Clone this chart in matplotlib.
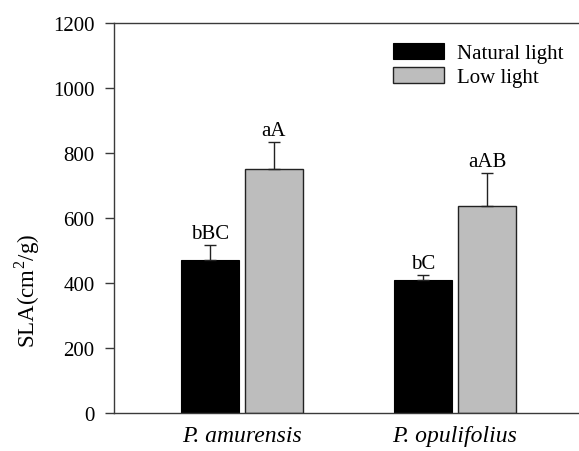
import matplotlib
matplotlib.use("Agg")
import matplotlib.pyplot as plt
import numpy as np
from matplotlib.patches import Patch

plt.rcParams['font.family'] = ['Liberation Serif', 'DejaVu Serif']
plt.rcParams['mathtext.fontset'] = 'custom'
plt.rcParams['mathtext.rm'] = 'Liberation Serif'

species = ['P. amurensis', 'P. opulifolius']
series_names = ['Natural light', 'Low light']
natural = [470, 410]
natural_err = [47, 14]
low = [750, 636]
low_err = [85, 102]
natural_letters = ['bBC', 'bC']
low_letters = ['aA', 'aAB']
yticks = [0, 200, 400, 600, 800, 1000, 1200]

W, H = 579, 452
fig = plt.figure(figsize=(W / 100, H / 100), dpi=100)
ax = fig.add_axes([114 / W, 1 - 414 / H, 1 - 114 / W, (414 - 24) / H])

x = np.arange(len(species))
width = 0.272
off = 0.150
spine_c = '#3a3a3a'
ekw = dict(ecolor='#222222', elinewidth=1.0, capsize=4.5, capthick=1.0)

b1 = ax.bar(x - off, natural, width, color='black', edgecolor='black', linewidth=0.8,
            yerr=[np.zeros(len(natural)), natural_err], error_kw=ekw, zorder=2)
b2 = ax.bar(x + off, low, width, color='#bdbdbd', edgecolor='#222222', linewidth=1.0,
            yerr=[np.zeros(len(low)), low_err], error_kw=ekw, zorder=2)

for xi, v, e, t in zip(x - off, natural, natural_err, natural_letters):
    ax.annotate(t, (xi, v + e), xytext=(0, 5), textcoords='offset points',
                ha='center', va='baseline', fontsize=15)
for xi, v, e, t in zip(x + off, low, low_err, low_letters):
    ax.annotate(t, (xi, v + e), xytext=(0, 5), textcoords='offset points',
                ha='center', va='baseline', fontsize=15)

ax.set_ylim(0, 1200)
ax.set_xlim(-0.601, 1.582)
ax.set_yticks(yticks)
ax.set_yticklabels([str(v) for v in yticks], fontsize=15)
ax.set_xticks(x)
ax.set_xticklabels(species, fontsize=17, style='italic')
ax.tick_params(axis='x', length=0, pad=9)
ax.tick_params(axis='y', direction='out', length=6.5, width=1.0, color=spine_c, pad=7.5)
ax.spines['right'].set_visible(False)
for s in ['left', 'top', 'bottom']:
    ax.spines[s].set_color(spine_c)
    ax.spines[s].set_linewidth(1.0)

fig.text(27 / W, 1 - 291 / H, 'SLA(cm$^2$/g)', rotation=90, ha='center', va='center', fontsize=16.5)

handles = [Patch(facecolor='black', edgecolor='black', linewidth=0.8),
           Patch(facecolor='#bdbdbd', edgecolor='#222222', linewidth=1.0)]
fig.legend(handles, series_names, loc='upper left', bbox_to_anchor=(389 / W, 1 - 40 / H),
           frameon=False, fontsize=15, handlelength=2.43, handleheight=0.78,
           handletextpad=0.65, labelspacing=0.2, borderaxespad=0, borderpad=0.2)

fig.savefig('out.png', dpi=100)
